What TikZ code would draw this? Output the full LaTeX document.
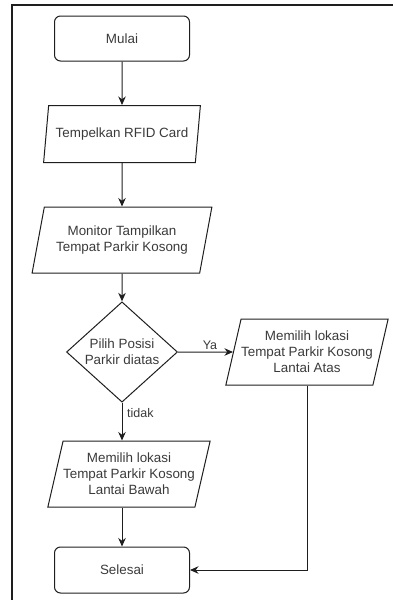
\documentclass[tikz,border=0pt]{standalone}
\usepackage{fontspec}
\setmainfont{Liberation Sans}
\usepackage{xcolor}
\usepackage{tikz}
\usetikzlibrary{arrows.meta,shapes.geometric}

\definecolor{txtgray}{HTML}{3A3A3A}
\definecolor{linegray}{HTML}{1E1E1E}

\begin{document}
\begin{tikzpicture}[x=1pt,y=1pt,>={Stealth[length=8.5pt,width=7.5pt]},
  term/.style={rectangle,rounded corners=6pt,draw=linegray,line width=1pt,minimum width=135pt,minimum height=45pt,inner sep=0pt,font=\fontsize{13.4}{16}\selectfont,text=txtgray,align=center},
  io/.style={trapezium,trapezium left angle=70,trapezium right angle=110,trapezium stretches=true,draw=linegray,line width=1pt,minimum width=157pt,minimum height=57pt,inner sep=0pt,font=\fontsize{13.4}{16}\selectfont,text=txtgray,align=center},
  dec/.style={diamond,draw=linegray,line width=1pt,minimum width=111pt,minimum height=90pt,inner sep=0pt,font=\fontsize{13.4}{16}\selectfont,text=txtgray,align=center},
  lbl/.style={font=\fontsize{12.5}{15}\selectfont,text=txtgray,inner sep=0pt},
  flow/.style={->,draw=linegray,line width=1pt}]
  \useasboundingbox (0,0) rectangle (393,-600);
  % frame of the screenshot
  \draw[line width=2pt,linegray] (12,-600) -- (12,-5) -- (393,-5);
  % nodes
  \node[term] (mulai) at (122,-38.5) {Mulai};
  \node[io] (rfid) at (122,-134) {Tempelkan RFID Card};
  \node[io,minimum width=180pt,minimum height=66pt] (monitor) at (122,-240) {Monitor Tampilkan\\Tempat Parkir Kosong};
  \node[dec] (pilih) at (122,-352) {Pilih Posisi\\Parkir diatas};
  \node[io,minimum height=66pt] (atas) at (307,-352) {Memilih lokasi\\Tempat Parkir Kosong\\Lantai Atas};
  \node[io,minimum width=155pt,minimum height=66pt] (bawah) at (129,-474) {Memilih lokasi\\Tempat Parkir Kosong\\Lantai Bawah};
  \node[term,minimum height=46pt] (selesai) at (122,-570) {Selesai};
  % connectors
  \draw[flow] (mulai) -- (rfid);
  \draw[flow] (rfid) -- (monitor);
  \draw[flow] (monitor) -- (pilih);
  \draw[flow] (pilih) -- (atas);
  \draw[flow] (pilih.south) -- (pilih.south |- bawah.north);
  \draw[flow] (selesai.north |- bawah.south) -- (selesai.north);
  \draw[flow] (atas.center |- atas.south) |- (selesai.east);
  % labels
  \node[lbl] (ya) at (210,-345) {Ya};
  \node[lbl,anchor=west] (tidak) at (127,-413) {tidak};
\end{tikzpicture}
\end{document}
